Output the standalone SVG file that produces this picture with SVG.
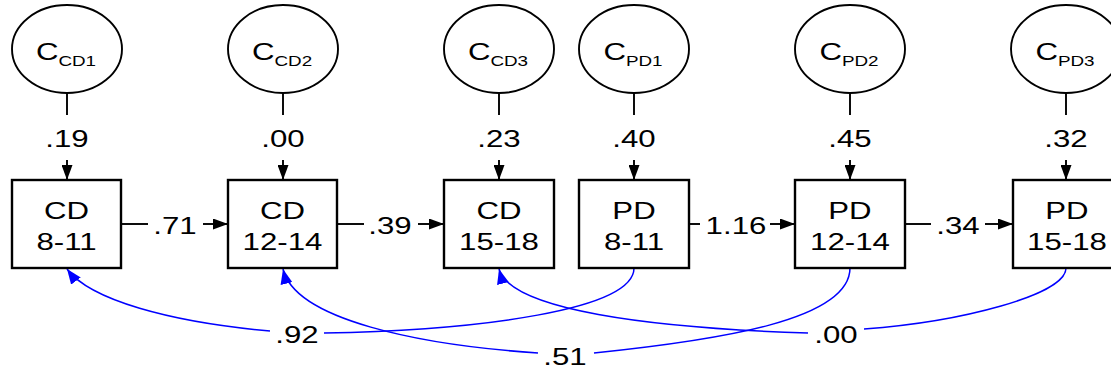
<svg xmlns="http://www.w3.org/2000/svg" width="1111" height="372" viewBox="0 0 1111 372">
<defs>
<style>
text { font-family: "Liberation Sans", Arial, sans-serif; font-size: 24px; fill: #000; text-anchor: middle; }
.t { transform-box: fill-box; transform-origin: center; transform: scaleX(1.3); }
.sub { font-size: 14.5px; }
.box { fill: #fff; stroke: #000; stroke-width: 2.4; }
.ell { fill: #fff; stroke: #000; stroke-width: 1.9; }
.k { fill: none; stroke: #000; stroke-width: 1.9; }
.b { fill: none; stroke: #0000ff; stroke-width: 1.5; }
</style>
<marker id="ak" markerWidth="15" markerHeight="11" refX="15" refY="5.5" orient="auto" markerUnits="userSpaceOnUse">
<path d="M0,0 L15,5.5 L0,11 z" fill="#000"/>
</marker>
<marker id="ab" markerWidth="15" markerHeight="12" refX="15" refY="6" orient="auto" markerUnits="userSpaceOnUse">
<path d="M0,0 L15,6 L0,12 z" fill="#0000ff"/>
</marker>
</defs>
<rect width="1111" height="372" fill="#fff"/>

<g id="connectors">
<g id="v-cd1"><line class="k" x1="67" y1="93" x2="67" y2="115"/><line class="k" x1="67" y1="160" x2="67" y2="180" marker-end="url(#ak)"/><text class="t" x="67" y="147">.19</text></g>
<g id="v-cd2"><line class="k" x1="283" y1="93" x2="283" y2="115"/><line class="k" x1="283" y1="160" x2="283" y2="180" marker-end="url(#ak)"/><text class="t" x="283" y="147">.00</text></g>
<g id="v-cd3"><line class="k" x1="499" y1="93" x2="499" y2="115"/><line class="k" x1="499" y1="160" x2="499" y2="180" marker-end="url(#ak)"/><text class="t" x="499" y="147">.23</text></g>
<g id="v-pd1"><line class="k" x1="634" y1="93" x2="634" y2="115"/><line class="k" x1="634" y1="160" x2="634" y2="180" marker-end="url(#ak)"/><text class="t" x="634" y="147">.40</text></g>
<g id="v-pd2"><line class="k" x1="850" y1="93" x2="850" y2="115"/><line class="k" x1="850" y1="160" x2="850" y2="180" marker-end="url(#ak)"/><text class="t" x="850" y="147">.45</text></g>
<g id="v-pd3"><line class="k" x1="1066" y1="93" x2="1066" y2="115"/><line class="k" x1="1066" y1="160" x2="1066" y2="180" marker-end="url(#ak)"/><text class="t" x="1066" y="147">.32</text></g>
<g id="h-cd1-cd2"><line class="k" x1="121" y1="224" x2="148" y2="224"/><line class="k" x1="203" y1="224" x2="228" y2="224" marker-end="url(#ak)"/><text class="t" x="175" y="234">.71</text></g>
<g id="h-cd2-cd3"><line class="k" x1="337" y1="224" x2="364" y2="224"/><line class="k" x1="418" y1="224" x2="444" y2="224" marker-end="url(#ak)"/><text class="t" x="390" y="234">.39</text></g>
<g id="h-pd1-pd2"><line class="k" x1="689" y1="224" x2="700" y2="224"/><line class="k" x1="770" y1="224" x2="795" y2="224" marker-end="url(#ak)"/><text class="t" x="736" y="234">1.16</text></g>
<g id="h-pd2-pd3"><line class="k" x1="905" y1="224" x2="931" y2="224"/><line class="k" x1="985" y1="224" x2="1013" y2="224" marker-end="url(#ak)"/><text class="t" x="958" y="234">.34</text></g>
<g id="c-92"><path class="b" d="M634,268 C634,310 480,330 324,333"/><path class="b" d="M270,331 C170,322 90,300 67,269" marker-end="url(#ab)"/><text class="t" x="297" y="343">.92</text></g>
<g id="c-51"><path class="b" d="M850,268 C850,320 720,340 594,353"/><path class="b" d="M538,353 C420,345 295,320 283,269" marker-end="url(#ab)"/><text class="t" x="565" y="365">.51</text></g>
<g id="c-00"><path class="b" d="M1066,268 C1066,295 960,322 864,329"/><path class="b" d="M808,333 C650,328 510,310 499,269" marker-end="url(#ab)"/><text class="t" x="836" y="343">.00</text></g>
</g>

<g id="n-ccd1"><ellipse class="ell" cx="67" cy="49" rx="55" ry="44"/><text class="t" x="66" y="60">C<tspan class="sub" dy="6">CD1</tspan></text></g>
<g id="n-ccd2"><ellipse class="ell" cx="283" cy="49" rx="55" ry="44"/><text class="t" x="282" y="60">C<tspan class="sub" dy="6">CD2</tspan></text></g>
<g id="n-ccd3"><ellipse class="ell" cx="499" cy="49" rx="55" ry="44"/><text class="t" x="498" y="60">C<tspan class="sub" dy="6">CD3</tspan></text></g>
<g id="n-cpd1"><ellipse class="ell" cx="634" cy="49" rx="55" ry="44"/><text class="t" x="633" y="60">C<tspan class="sub" dy="6">PD1</tspan></text></g>
<g id="n-cpd2"><ellipse class="ell" cx="850" cy="49" rx="55" ry="44"/><text class="t" x="849" y="60">C<tspan class="sub" dy="6">PD2</tspan></text></g>
<g id="n-cpd3"><ellipse class="ell" cx="1066" cy="49" rx="55" ry="44"/><text class="t" x="1065" y="60">C<tspan class="sub" dy="6">PD3</tspan></text></g>

<g id="n-cd811"><rect class="box" x="12" y="180" width="109" height="88"/><text class="t" x="66.5" y="219">CD</text><text class="t" x="66.5" y="250">8-11</text></g>
<g id="n-cd1214"><rect class="box" x="228" y="180" width="109" height="88"/><text class="t" x="282.5" y="219">CD</text><text class="t" x="282.5" y="250">12-14</text></g>
<g id="n-cd1518"><rect class="box" x="444" y="180" width="110" height="88"/><text class="t" x="499" y="219">CD</text><text class="t" x="499" y="250">15-18</text></g>
<g id="n-pd811"><rect class="box" x="579" y="180" width="110" height="88"/><text class="t" x="634" y="219">PD</text><text class="t" x="634" y="250">8-11</text></g>
<g id="n-pd1214"><rect class="box" x="795" y="180" width="110" height="88"/><text class="t" x="850" y="219">PD</text><text class="t" x="850" y="250">12-14</text></g>
<g id="n-pd1518"><rect class="box" x="1013" y="180" width="110" height="88"/><text class="t" x="1067" y="219">PD</text><text class="t" x="1067" y="250">15-18</text></g>
</svg>
